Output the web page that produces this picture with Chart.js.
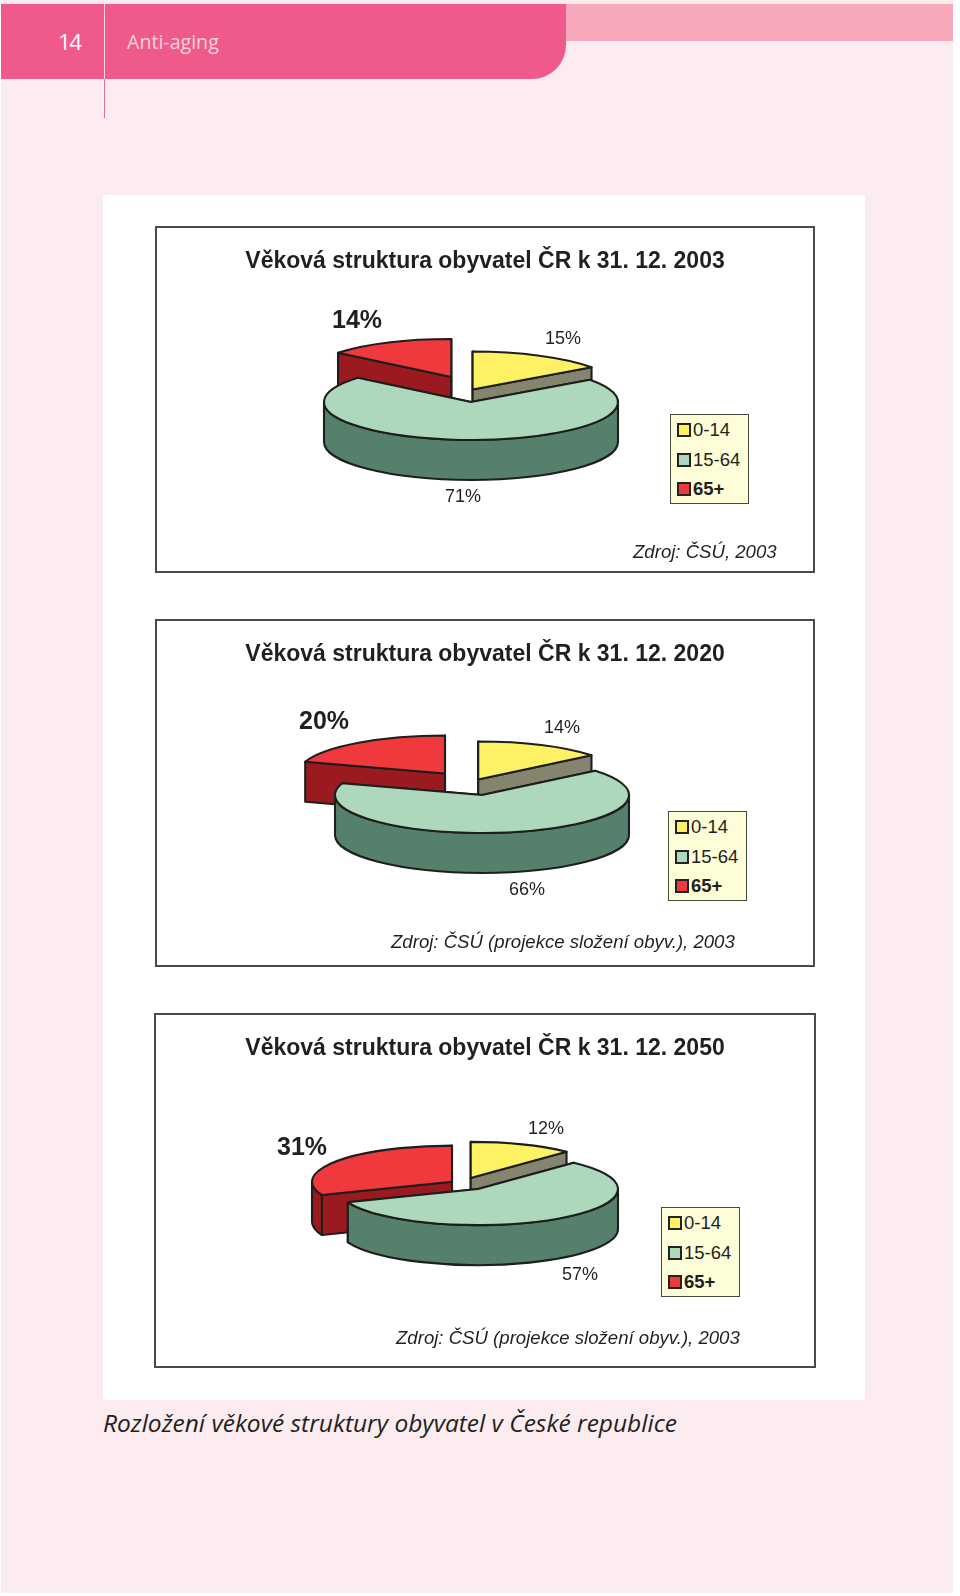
<!DOCTYPE html>
<html lang="cs">
<head>
<meta charset="utf-8">
<title>Anti-aging</title>
<script src="https://cdn.jsdelivr.net/npm/chart.js@4"></script>
<style>
  html, body { margin: 0; padding: 0; background: #fff; }
  #page { position: absolute; left: 1px; top: 0; width: 952px; height: 1593px; background: #fcebef; overflow: hidden; }
  #page div, #page span { position: absolute; }
  #band-light { left: 0; top: 4px; right: 0; height: 37px; background: #f7a9bb; }
  #band { left: 0; top: 4px; width: 565px; height: 75px; background: #f05a8a; border-bottom-right-radius: 34px; }
  #rule-a { left: 102.5px; top: 4px; width: 1.5px; height: 75px; background: #fbd3df; }
  #rule-b { left: 102.5px; top: 79px; width: 1.5px; height: 39px; background: #e0719c; }
  #page-no { left: 57px; top: 26px; color: #fff; letter-spacing: -1.5px; font: 22.5px "Open Sans", sans-serif; }
  #running { left: 126px; top: 28px; color: #fbd3df; font: 19.6px "Open Sans", sans-serif; }
  #panel { left: 102px; top: 195px; width: 762px; height: 1205px; background: #fff; }
  #caption { left: 102px; top: 1406px; color: #231f20; white-space: nowrap; font: italic 24.5px "Open Sans", sans-serif; }
  .box { border: 2px solid #4a4a4a; box-sizing: border-box; background: #fff; }
  .box canvas { position: absolute; left: -2px; top: -2px; }
  .source { color: #231f20; white-space: nowrap; font: italic 18.6px "Liberation Sans", sans-serif; transform: translateY(-50%); }
  .legend { width: 79px; height: 90px; box-sizing: border-box; border: 1px solid #4a4a3c; background: #fdfdd8; }
  .swatch { left: 5.5px; width: 14px; height: 14px; box-sizing: border-box; border: 2px solid #232323; }
  .entry { left: 22px; color: #231f20; white-space: nowrap; font: 18.5px "Liberation Sans", sans-serif; transform: translateY(-50%); }
</style>
</head>
<body>
<div id="page">
  <div id="band-light"></div>
  <div id="band"></div>
  <div id="rule-a"></div>
  <div id="rule-b"></div>
  <span id="page-no">14</span>
  <span id="running">Anti-aging</span>
  <div id="panel"></div>
  <span id="caption">Rozložení věkové struktury obyvatel v České republice</span>
</div>
<script>
// ── Data ────────────────────────────────────────────────────────────────
const ageGroups = ['0-14', '15-64', '65+'];
const years     = ['2003', '2020', '2050'];
const shares2003 = [15, 71, 14];
const shares2020 = [14, 66, 20];
const shares2050 = [12, 57, 31];
const sources = ['Zdroj: ČSÚ, 2003',
                 'Zdroj: ČSÚ (projekce složení obyv.), 2003',
                 'Zdroj: ČSÚ (projekce složení obyv.), 2003'];

// ── Look ────────────────────────────────────────────────────────────────
const topColors  = ['#fff164', '#aed8bc', '#ef393c'];
const sideColors = ['#85856f', '#55806c', '#9b1a20'];
const lineColor  = '#1e1e1c';
const squash = 0.258;   // ry / rx of the tilted pie
const depth  = 40;
const paintOrder = [2, 0, 1];  // back slices first, the big one covers them

// Page placement of each panel (pixels on the page, not in the canvas).
const layouts = [
  { box: [155, 226, 660, 347], pie: [471, 402], radius: 147,
    explode: [[1.6, -12.5], [0, 0], [-19.7, -25]],
    labels: [[563, 339], [463, 497], [357, 321]],
    legend: [670, 414], source: [633, 552] },
  { box: [155, 619, 660, 348], pie: [482, 795], radius: 147,
    explode: [[-3.8, -15.5], [0, 0], [-37, -21.5]],
    labels: [[562, 728], [527, 890], [324, 722]],
    legend: [668, 811], source: [391, 942] },
  { box: [154, 1013, 662, 355], pie: [478, 1189], radius: 140,
    explode: [[-7.3, -11], [0, 0], [-26, -7.3]],
    labels: [[546, 1129], [580, 1275], [302, 1148]],
    legend: [661, 1207], source: [396, 1338] }
];

// ── Tilted pie: takes the arcs Chart.js computed and paints them flattened ──
const tiltedPie = {
  id: 'tiltedPie',
  beforeDatasetsDraw(chart, args, opts) {
    const ctx  = chart.ctx;
    const arcs = chart.getDatasetMeta(0).data;
    const lay  = opts.layout;
    const ox = lay.pie[0] - lay.box[0], oy = lay.pie[1] - lay.box[1];

    paintOrder.forEach(i => {
      const arc = arcs[i];
      const rx = arc.outerRadius, ry = rx * squash;
      const cx = ox + lay.explode[i][0], cy = oy + lay.explode[i][1];
      const a0 = arc.startAngle, a1 = arc.endAngle;
      const px = a => cx + rx * Math.cos(a), py = a => cy + ry * Math.sin(a);

      ctx.save();
      ctx.lineWidth = 2.1;
      ctx.lineJoin = 'round';
      ctx.strokeStyle = lineColor;
      ctx.fillStyle = sideColors[i];

      // the two cut faces
      [a0, a1].forEach(a => {
        ctx.beginPath();
        ctx.moveTo(cx, cy);
        ctx.lineTo(px(a), py(a));
        ctx.lineTo(px(a), py(a) + depth);
        ctx.lineTo(cx, cy + depth);
        ctx.closePath();
        ctx.fill();
        ctx.stroke();
      });

      // rim: only the part of the arc on the near side of the pie
      for (const turn of [-2 * Math.PI, 0, 2 * Math.PI]) {
        const s = Math.max(a0, turn), e = Math.min(a1, turn + Math.PI);
        if (e <= s) continue;
        ctx.beginPath();
        ctx.ellipse(cx, cy, rx, ry, 0, s, e);
        ctx.ellipse(cx, cy + depth, rx, ry, 0, e, s, true);
        ctx.closePath();
        ctx.fill();
        ctx.stroke();
      }

      // top face, filled by the element itself
      ctx.save();
      ctx.translate(cx, cy);
      ctx.scale(1, squash);
      ctx.translate(-arc.x, -arc.y);
      arc.draw(ctx);
      ctx.restore();

      // outline drawn unscaled so the line keeps its width
      ctx.beginPath();
      ctx.moveTo(cx, cy);
      ctx.ellipse(cx, cy, rx, ry, 0, a0, a1);
      ctx.closePath();
      ctx.stroke();
      ctx.restore();
    });
    return false;
  },
  afterDraw(chart, args, opts) {
    const ctx = chart.ctx, lay = opts.layout, values = chart.data.datasets[0].data;
    ctx.save();
    ctx.textAlign = 'center';
    ctx.textBaseline = 'middle';
    values.forEach((v, i) => {
      ctx.fillStyle = '#231f20';
      ctx.font = i === 2 ? 'bold 25px "Liberation Sans"' : '18px "Liberation Sans"';
      ctx.fillText(v + '%', lay.labels[i][0] - lay.box[0], lay.labels[i][1] - lay.box[1]);
    });
    ctx.restore();
  }
};

function addEl(parent, cls, text) {
  const el = document.createElement('div');
  if (cls) el.className = cls;
  if (text) el.textContent = text;
  parent.appendChild(el);
  return el;
}

function buildPanel(year, values, source, lay) {
  const page = document.getElementById('page');
  const [bx, by, bw, bh] = lay.box;
  const pageLeft = 1;   // #page sits 1px in from the window edge

  const box = addEl(page, 'box');
  box.style.cssText = `left:${bx - pageLeft}px;top:${by}px;width:${bw}px;height:${bh}px`;
  const canvas = document.createElement('canvas');
  canvas.width = bw;
  canvas.height = bh;
  canvas.style.cssText = `width:${bw}px;height:${bh}px`;
  box.appendChild(canvas);

  new Chart(canvas.getContext('2d'), {
    type: 'pie',
    data: {
      labels: ageGroups,
      datasets: [{ data: values, backgroundColor: topColors, borderWidth: 0 }]
    },
    options: {
      responsive: false,
      animation: false,
      radius: lay.radius,
      plugins: {
        legend: { display: false },
        tooltip: { enabled: false },
        title: {
          display: true,
          text: `Věková struktura obyvatel ČR k 31. 12. ${year}`,
          color: '#231f20',
          font: { family: '"Liberation Sans"', size: 23, weight: 'bold' },
          padding: { top: 22, bottom: 0 }
        },
        tiltedPie: { layout: lay }
      }
    },
    plugins: [tiltedPie]
  });

  const src = addEl(page, 'source', source);
  src.style.left = (lay.source[0] - pageLeft) + 'px';
  src.style.top  = lay.source[1] + 'px';

  const legend = addEl(page, 'legend');
  legend.style.left = (lay.legend[0] - pageLeft) + 'px';
  legend.style.top  = lay.legend[1] + 'px';
  ageGroups.forEach((g, i) => {
    const rowY = 15 + i * 29.7;
    const sw = addEl(legend, 'swatch');
    sw.style.top = (rowY - 7) + 'px';
    sw.style.background = topColors[i];
    const t = addEl(legend, 'entry', g);
    t.style.top = rowY + 'px';
    if (i === 2) t.style.fontWeight = 'bold';
  });
}

buildPanel(years[0], shares2003, sources[0], layouts[0]);
buildPanel(years[1], shares2020, sources[1], layouts[1]);
buildPanel(years[2], shares2050, sources[2], layouts[2]);
</script>
</body>
</html>
